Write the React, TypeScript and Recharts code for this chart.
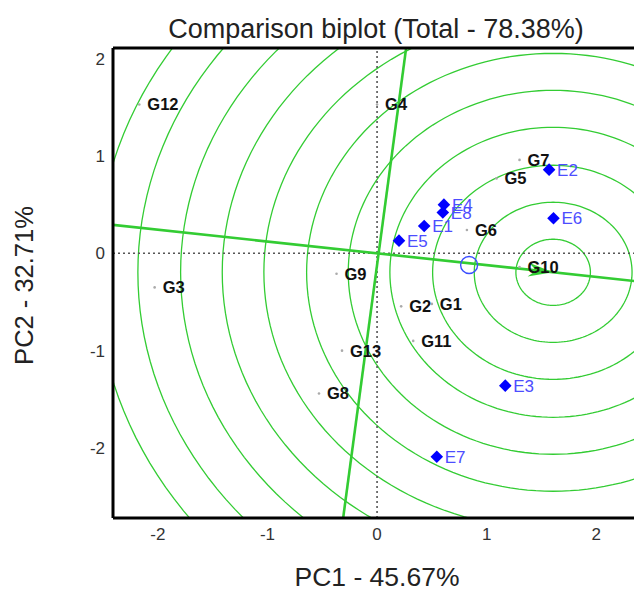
import {
  ComposedChart,
  XAxis,
  YAxis,
  Line,
  Scatter,
  ReferenceLine,
} from "recharts"

const FONT = '"Liberation Sans", Arial, sans-serif'
const GREEN = "#33cc33"

const xTicks = [-2, -1, 0, 1, 2]
const yTicks = [-2, -1, 0, 1, 2]
const xDomain = [-2.41, 2.5]
const yDomain = [-2.72, 2.11]

const genotypes = [
  { name: "G1", x: 0.5, y: -0.52 },
  { name: "G2", x: 0.22, y: -0.545 },
  { name: "G3", x: -2.03, y: -0.35 },
  { name: "G4", x: 0.0, y: 1.53 },
  { name: "G5", x: 1.09, y: 0.77 },
  { name: "G6", x: 0.82, y: 0.24 },
  { name: "G7", x: 1.3, y: 0.96 },
  { name: "G8", x: -0.53, y: -1.44 },
  { name: "G9", x: -0.37, y: -0.21 },
  { name: "G10", x: 1.3, y: -0.14 },
  { name: "G11", x: 0.33, y: -0.9 },
  { name: "G12", x: -2.17, y: 1.53 },
  { name: "G13", x: -0.32, y: -1.0 },
]

const environments = [
  { name: "E1", x: 0.43, y: 0.28 },
  { name: "E2", x: 1.57, y: 0.86 },
  { name: "E3", x: 1.17, y: -1.36 },
  { name: "E4", x: 0.61, y: 0.5 },
  { name: "E5", x: 0.2, y: 0.13 },
  { name: "E6", x: 1.61, y: 0.36 },
  { name: "E7", x: 0.545, y: -2.09 },
  { name: "E8", x: 0.6, y: 0.42 },
]

// average environment marker and the "ideal" point the rings centre on
const avgEnv = [{ x: 0.84, y: -0.12 }]
const ideal = [{ x: 1.607, y: -0.195 }]
const ringRadii = [0.34, 0.72, 1.1, 1.49, 1.87, 2.25, 2.64, 3.02, 3.4, 3.79, 4.17]

// AEC abscissa and ordinate
const aecAbscissa = [{ x: -2.6, y: 0.315 }, { x: 2.6, y: -0.315 }]
const aecOrdinate = [{ x: 0.276, y: 2.2 }, { x: -0.319, y: -2.8 }]

const rings = ringRadii.map((r) =>
  Array.from({ length: 181 }, (_, i) => {
    const t = (i / 180) * 2 * Math.PI
    return { x: ideal[0].x + r * Math.cos(t), y: ideal[0].y + r * Math.sin(t) }
  })
)

const GenoShape = (props: any) => {
  const { cx, cy, payload } = props
  return (
    <g>
      <circle cx={cx} cy={cy} r={1.3} fill="#aaa" />
      <text
        x={cx + 8}
        y={cy}
        dy="0.36em"
        fontSize={16.5}
        fontWeight="bold"
        fill="#111"
        fontFamily={FONT}
      >
        {payload.name}
      </text>
    </g>
  )
}

const EnvShape = (props: any) => {
  const { cx, cy, payload } = props
  const s = 6.3
  return (
    <g>
      <path
        d={`M${cx},${cy - s}L${cx + s},${cy}L${cx},${cy + s}L${cx - s},${cy}Z`}
        fill="#0000ff"
      />
      <text
        x={cx + 8}
        y={cy}
        dy="0.36em"
        fontSize={17}
        fill="#4d4dff"
        fontFamily={FONT}
      >
        {payload.name}
      </text>
    </g>
  )
}

const AvgShape = (props: any) => (
  <circle cx={props.cx} cy={props.cy} r={8.5} fill="none" stroke="#3a4dff" strokeWidth={1.4} />
)

const ArrowShape = (props: any) => {
  const { cx, cy } = props
  const a = (6.1 * Math.PI) / 180
  const pts = [
    [0, 0],
    [-25, -7],
    [-17, 0],
    [-25, 7],
  ]
    .map(([px, py]) => {
      const rx = px * Math.cos(a) - py * Math.sin(a)
      const ry = px * Math.sin(a) + py * Math.cos(a)
      return `${cx + rx},${cy + ry}`
    })
    .join(" ")
  return <polygon points={pts} fill={GREEN} />
}

const tickStyle = { fontSize: 17, fill: "#333", fontFamily: FONT }

export default function App() {
  return (
    <div
      style={{
        position: "absolute",
        left: 0,
        top: 0,
        width: 634,
        height: 592,
        overflow: "hidden",
        background: "#fff",
      }}
    >
      <ComposedChart
        width={680}
        height={592}
        margin={{ top: 48, right: 29, left: 0, bottom: 44 }}
      >
        <XAxis
          dataKey="x"
          type="number"
          domain={xDomain}
          ticks={xTicks}
          allowDataOverflow
          tickLine={false}
          tickSize={0}
          tickMargin={10}
          height={30}
          axisLine={{ stroke: "#000", strokeWidth: 3 }}
          tick={tickStyle}
        />
        <YAxis
          dataKey="y"
          type="number"
          domain={yDomain}
          ticks={yTicks}
          allowDataOverflow
          tickLine={false}
          tickSize={0}
          tickMargin={8}
          width={113}
          axisLine={{ stroke: "#000", strokeWidth: 3 }}
          tick={tickStyle}
        />

        {rings.map((pts, i) => (
          <Line
            key={i}
            data={pts}
            dataKey="y"
            type="linear"
            stroke={GREEN}
            strokeWidth={1.3}
            dot={false}
            activeDot={false}
            isAnimationActive={false}
          />
        ))}

        <ReferenceLine x={0} stroke="#555" strokeDasharray="2 3" strokeWidth={1.6} />
        <ReferenceLine y={0} stroke="#555" strokeDasharray="2 3" strokeWidth={1.6} />

        <ReferenceLine segment={aecAbscissa} stroke={GREEN} strokeWidth={2.6} ifOverflow="hidden" />
        <ReferenceLine segment={aecOrdinate} stroke={GREEN} strokeWidth={2.6} ifOverflow="hidden" />

        <ReferenceLine y={yDomain[1]} stroke="#000" strokeWidth={3} />

        <Scatter data={ideal} shape={ArrowShape} isAnimationActive={false} />
        <Scatter data={avgEnv} shape={AvgShape} isAnimationActive={false} />
        <Scatter data={genotypes} shape={GenoShape} isAnimationActive={false} />
        <Scatter data={environments} shape={EnvShape} isAnimationActive={false} />
      </ComposedChart>

      <svg
        width={634}
        height={592}
        style={{ position: "absolute", left: 0, top: 0, pointerEvents: "none" }}
      >
        <text x={376} y={38} textAnchor="middle" fontSize={27} fill="#222" fontFamily={FONT}>
          Comparison biplot (Total - 78.38%)
        </text>
        <text x={377} y={586} textAnchor="middle" fontSize={26.5} fill="#222" fontFamily={FONT}>
          PC1 - 45.67%
        </text>
        <text
          x={33}
          y={285.5}
          textAnchor="middle"
          fontSize={25.5}
          fill="#222"
          fontFamily={FONT}
          transform="rotate(-90, 33, 285.5)"
        >
          PC2 - 32.71%
        </text>
      </svg>
    </div>
  )
}
